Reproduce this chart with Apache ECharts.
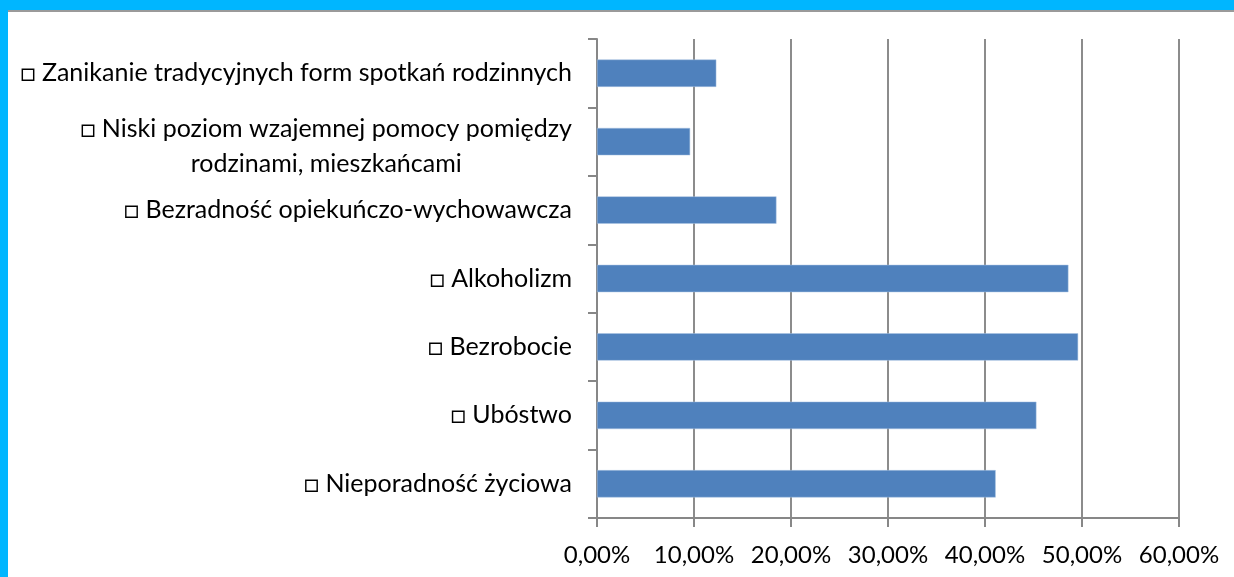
<!DOCTYPE html>
<html>
<head>
<meta charset="utf-8">
<title>Problemy</title>
<script src="https://cdn.jsdelivr.net/npm/echarts@6/dist/echarts.min.js"></script>
<style>
    html, body { margin: 0; padding: 0; background: #fff; }
    #chart { width: 1234px; height: 577px; }
</style>
</head>
<body>
<div id="chart"></div>
<script>
// dane (od góry do dołu)
var categories = [
    '□ Zanikanie tradycyjnych form spotkań rodzinnych',
    '□ Niski poziom wzajemnej pomocy pomiędzy\nrodzinami, mieszkańcami',
    '□ Bezradność opiekuńczo-wychowawcza',
    '□ Alkoholizm',
    '□ Bezrobocie',
    '□ Ubóstwo',
    '□ Nieporadność życiowa'
];
var values = [12.3, 9.6, 18.5, 48.6, 49.6, 45.3, 41.1];
var xTicks = [0, 10, 20, 30, 40, 50, 60];

var font = 'Lato, "Open Sans", sans-serif';
var chart = echarts.init(document.getElementById('chart'));

// etykieta z dwoma liniami - druga linia wyśrodkowana
var labelFormatter = function(value){
    var lines = value.split('\n');
    if (lines.length === 1) {
        return '{a|' + value + '}';
    }
    return '{b|' + lines[0] + '}\n{c|' + lines[1] + '}';
};

var option = {
    backgroundColor: '#ffffff',
    animation: false,
    grid: {
        left: 597,
        right: 55,
        top: 39,
        bottom: 59
    },
    xAxis: {
        type: 'value',
        min: xTicks[0],
        max: xTicks[xTicks.length - 1],
        interval: 10,
        axisLine: { show: true, lineStyle: { color: '#878787', width: 2 } },
        axisTick: { show: true, length: 9, lineStyle: { color: '#878787', width: 2 } },
        splitLine: { show: true, lineStyle: { color: '#8c8c8c', width: 2 } },
        axisLabel: {
            margin: 25,
            color: '#000',
            fontFamily: font,
            fontSize: 24,
            formatter: function(v){
                return v.toFixed(2).replace('.', ',') + '%';
            }
        }
    },
    yAxis: {
        type: 'category',
        inverse: true,
        data: categories,
        axisLine: { show: true, lineStyle: { color: '#878787', width: 2 } },
        axisTick: { show: true, length: 9, lineStyle: { color: '#878787', width: 2 } },
        axisLabel: {
            margin: 25,
            color: '#000',
            fontFamily: font,
            fontSize: 25,
            lineHeight: 33,
            formatter: labelFormatter,
            rich: {
                a: { fontFamily: font, fontSize: 25, color: '#000', lineHeight: 33 },
                b: { fontFamily: font, fontSize: 25, color: '#000', lineHeight: 33, padding: [8, 0, 0, 0] },
                c: { fontFamily: font, fontSize: 25, color: '#000', lineHeight: 33, align: 'center', padding: [12, 0, 0, 0] }
            }
        }
    },
    series: [
        {
            type: 'bar',
            data: values,
            barCategoryGap: '60%',
            itemStyle: {
                color: '#4f81bd',
                borderColor: '#a9c2e3',
                borderWidth: 0.5
            }
        }
    ],
    graphic: [
        { type: 'rect', shape: { x: 0, y: 0, width: 1234, height: 10 }, style: { fill: '#00b6ff' }, z: 100 },
        { type: 'rect', shape: { x: 0, y: 0, width: 8, height: 577 }, style: { fill: '#00b6ff' }, z: 100 },
        { type: 'line', shape: { x1: 8, y1: 11, x2: 1234, y2: 11 }, style: { stroke: '#9a9a9a', lineWidth: 2 }, z: 100 }
    ]
};

chart.setOption(option);
</script>
</body>
</html>
